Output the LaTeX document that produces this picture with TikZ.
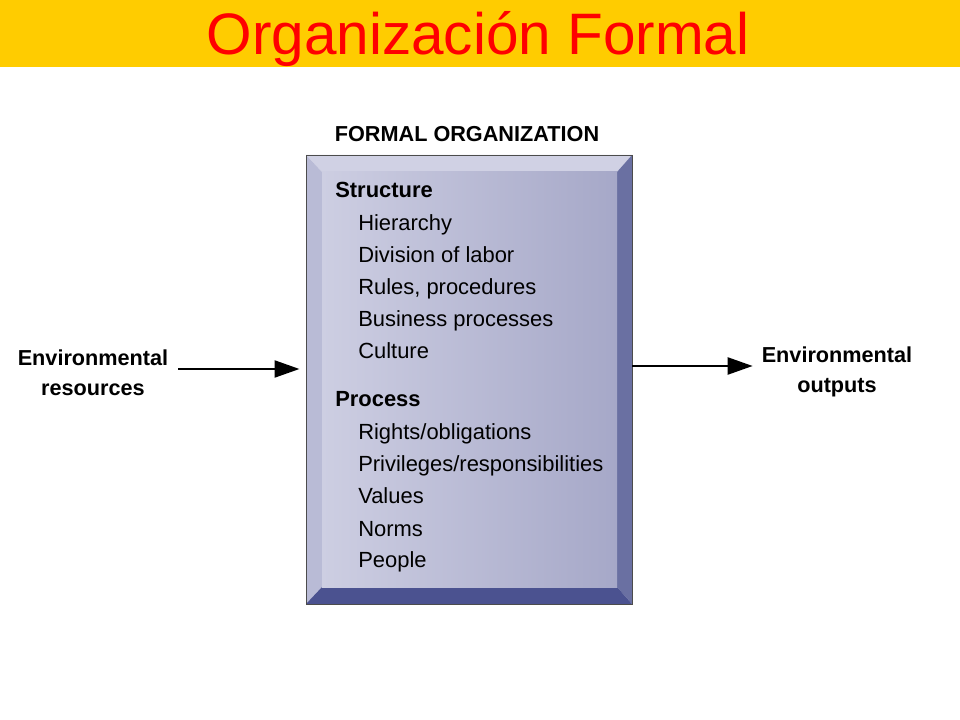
\documentclass[tikz,border=0pt]{standalone}
\usepackage{fontspec}
\setmainfont{Liberation Sans}
\usetikzlibrary{arrows.meta,positioning}

\definecolor{bandyellow}{HTML}{FFCC00}
\definecolor{titlered}{HTML}{FF0000}
\definecolor{bevtop}{HTML}{D0D1E4}
\definecolor{bevleft}{HTML}{B9BBD6}
\definecolor{bevright}{HTML}{6A70A2}
\definecolor{bevbottom}{HTML}{4B5290}
\definecolor{faceA}{HTML}{CDCEE2}
\definecolor{faceB}{HTML}{A6A8C8}

\begin{document}
\begin{tikzpicture}[x=0.025cm,y=-0.025cm,
    heading/.style={font=\fontsize{15.4}{18}\selectfont\bfseries, inner sep=0pt},
    item/.style={font=\fontsize{15.6}{18}\selectfont, anchor=base west, inner sep=0pt},
    group/.style={item, font=\fontsize{15.6}{18}\selectfont\bfseries},
    envlabel/.style={font=\fontsize{15.4}{21.3}\selectfont\bfseries, align=center, inner sep=0pt},
    flow/.style={line width=1.9pt, -{Triangle[length=17.8pt,width=12pt]}}]
        \useasboundingbox (0,0) rectangle (960,720);

        % title band
        \fill[bandyellow] (0,0) rectangle (960,67);
        \node(title) [anchor=base, text=titlered, font=\fontsize{41.6}{48}\selectfont, inner sep=0pt] at (478,55) {Organización Formal};

        % bevelled box
        \def\bx{306}\def\by{155}\def\bX{632}\def\bY{604}
        \def\fx{322}\def\fy{172}\def\fX{617}\def\fY{587}
        \fill[bevtop] (\bx,\by) -- (\bX,\by) -- (\fX,\fy) -- (\fx,\fy) -- cycle;
        \fill[bevleft] (\bx,\by) -- (\fx,\fy) -- (\fx,\fY) -- (\bx,\bY) -- cycle;
        \fill[bevright] (\bX,\by) -- (\bX,\bY) -- (\fX,\fY) -- (\fX,\fy) -- cycle;
        \fill[bevbottom] (\bx,\bY) -- (\fx,\fY) -- (\fX,\fY) -- (\bX,\bY) -- cycle;
        \shade[left color=faceA, right color=faceB] (\fx,\fy) rectangle (\fX,\fY);
        \node(frame) [draw=black!70, line width=0.6pt, minimum width=8.15cm, minimum height=11.225cm, inner sep=0pt] at (469,379.5) {};

        \node(formal) [heading, anchor=base] at (467,142) {FORMAL ORGANIZATION};

        % structure
        \node(structure) [group] at (335,198) {Structure};
        \foreach \txt [count=\i] in {Hierarchy, Division of labor, {Rules, procedures}, Business processes, Culture}
            \node(s\i) [item] at (358,199+32*\i) {\txt};

        % process
        \node(process) [group] at (335,407) {Process};
        \foreach \txt [count=\i] in {Rights/obligations, Privileges/responsibilities, Values, Norms, People}
            \node(p\i) [item] at (358,408+32*\i) {\txt};

        % environment
        \node(resources) [envlabel] at (93,373) {Environmental\\resources};
        \node(outputs) [envlabel] at (837,372) {Environmental\\outputs};
        \draw[flow, shorten <=0.25cm, shorten >=0.15cm] ([yshift=0.1cm]resources.east) -- ([yshift=0.1cm]frame.west |- resources.east);
        \draw[flow, shorten >=0.22cm] ([yshift=0.15cm]frame.east |- outputs.west) -- ([yshift=0.15cm]outputs.west);
    \end{tikzpicture}
\end{document}
